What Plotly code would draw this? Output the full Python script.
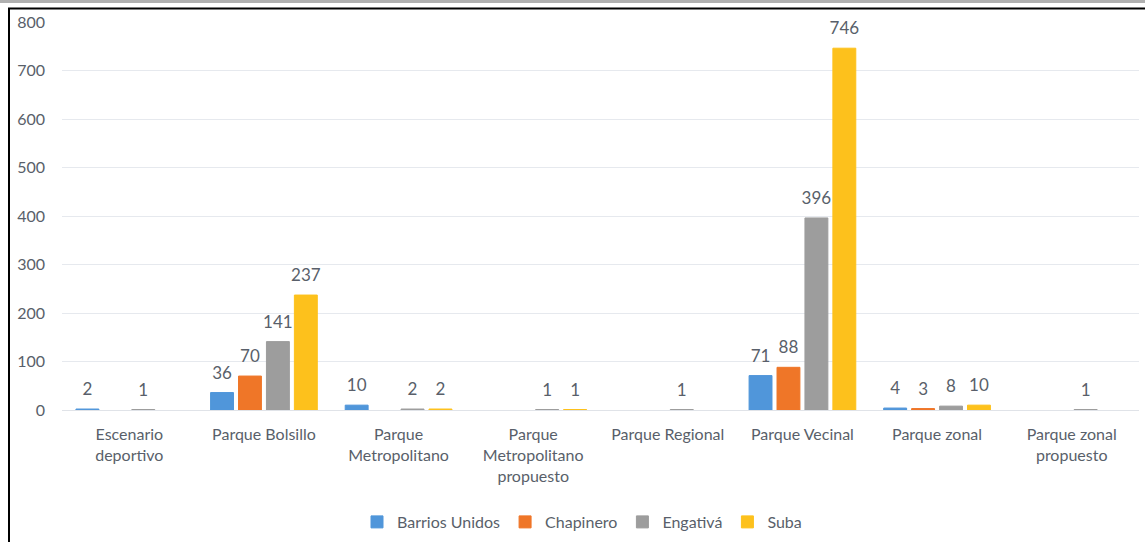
import plotly.graph_objects as go

# datos
categorias = [
    "Escenario<br>deportivo", "Parque Bolsillo", "Parque<br>Metropolitano",
    "Parque<br>Metropolitano<br>propuesto", "Parque Regional", "Parque Vecinal",
    "Parque zonal", "Parque zonal<br>propuesto",
]
barrios_unidos = [2, 36, 10, None, None, 71, 4, None]
chapinero = [None, 70, None, None, None, 88, 3, None]
engativa = [1, 141, 2, 1, 1, 396, 8, 1]
suba = [None, 237, 2, 1, None, 746, 10, None]

series = [
    ("Barrios Unidos", barrios_unidos, "#5096da"),
    ("Chapinero", chapinero, "#ef7628"),
    ("Engativá", engativa, "#9d9d9d"),
    ("Suba", suba, "#fdc11c"),
]

FUENTE = "Lato, 'Open Sans', sans-serif"
GRIS_TXT = "#595f6a"

fig = go.Figure()
for nombre, valores, color in series:
    fig.add_trace(go.Bar(
        x=categorias,
        y=valores,
        name=nombre,
        marker=dict(color=color, line=dict(color=color, width=1)),
        hovertemplate="%{x}: %{y}<extra>" + nombre + "</extra>",
    ))

# etiquetas de datos (scatter agrupado, alineado con las barras)
for nombre, valores, color in series:
    fig.add_trace(go.Scatter(
        x=categorias,
        y=valores,
        mode="markers+text",
        text=["" if v is None else str(v) for v in valores],
        textposition="top center",
        textfont=dict(size=17, color=GRIS_TXT, family=FUENTE),
        marker=dict(size=14, opacity=0),
        showlegend=False,
        hoverinfo="skip",
        cliponaxis=False,
    ))

W, H = 1145, 542
ML, MR, MT, MB = 62, 6, 22, 132
pw, ph = W - ML - MR, H - MT - MB

def px_x(p):
    return (p - ML) / pw

def px_y(p):
    return (H - MB - p) / ph

fig.update_layout(
    width=W, height=H,
    margin=dict(l=ML, r=MR, t=MT, b=MB, autoexpand=False),
    barmode="group",
    bargap=0.17,
    bargroupgap=0.18,
    scattermode="group",
    scattergap=0.17,
    plot_bgcolor="white",
    paper_bgcolor="white",
    font=dict(family=FUENTE, size=17, color=GRIS_TXT),
    legend=dict(
        orientation="h", x=px_x(582), xanchor="center",
        y=px_y(522), yanchor="middle",
        font=dict(size=16, color=GRIS_TXT),
        itemwidth=30, traceorder="normal",
    ),
    shapes=[
        dict(type="line", xref="paper", yref="paper",
             x0=px_x(0), x1=px_x(W), y0=px_y(1.5), y1=px_y(1.5),
             line=dict(color="#b0b0b0", width=3)),
        dict(type="line", xref="paper", yref="paper",
             x0=px_x(8), x1=px_x(W), y0=px_y(8.5), y1=px_y(8.5),
             line=dict(color="black", width=2)),
        dict(type="line", xref="paper", yref="paper",
             x0=px_x(9), x1=px_x(9), y0=px_y(8), y1=px_y(H),
             line=dict(color="black", width=2)),
    ],
)
fig.update_yaxes(
    range=[0, 800], dtick=100,
    showgrid=True, gridcolor="#e6e9ee", gridwidth=1,
    zeroline=True, zerolinecolor="#e0e3e8", zerolinewidth=1,
    tickfont=dict(size=16, color=GRIS_TXT),
    ticklabelstandoff=16,
)
fig.update_xaxes(
    tickfont=dict(size=16, color=GRIS_TXT),
    ticklabelstandoff=13,
    tickangle=0,
)

fig.write_html(
    "out.html",
    config={"displayModeBar": False},
    post_script="document.body.style.margin='0';",
)
